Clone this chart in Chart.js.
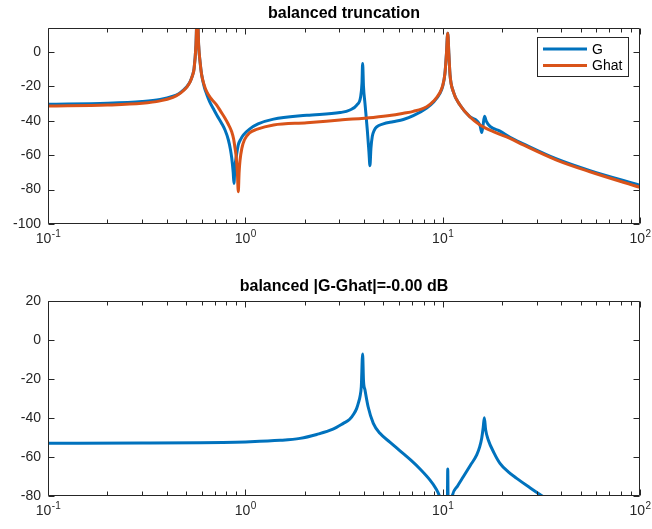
<!DOCTYPE html>
<html lang="en">
<head>
<meta charset="UTF-8">
<title>balanced truncation</title>
<style>
  body { margin: 0; background: #fff; }
  #wrap { position: relative; width: 652px; height: 529px; }
  canvas { position: absolute; left: 0; }
  #topChart { top: 0; }
  #errChart { top: 262px; }
</style>
<script src="https://cdn.jsdelivr.net/npm/chart.js"></script>
</head>
<body>
<div id="wrap">
  <canvas id="topChart" width="652" height="262"></canvas>
  <canvas id="errChart" width="652" height="267"></canvas>
</div>
<script>
// full model G: frequency (rad/s) and magnitude (dB)
const gFreq = [0.1, 0.2, 0.3, 0.37, 0.43, 0.46, 0.485, 0.505, 0.525, 0.54, 0.55, 0.562, 0.571, 0.58, 0.59,
  0.601, 0.62, 0.637, 0.66, 0.689, 0.72, 0.759, 0.79, 0.82, 0.84, 0.853, 0.868, 0.876, 0.885, 0.897, 0.921,
  0.95, 0.976, 1.05, 1.16, 1.39, 2.05, 3.02, 3.39, 3.67, 3.84, 3.9, 3.93, 3.97, 4.04, 4.15, 4.23, 4.28, 4.33,
  4.4, 4.5, 4.63, 5.0, 5.6, 6.32, 7.1, 8.3, 9.0, 9.69, 10.0, 10.27, 10.45, 10.61, 10.75, 10.9, 11.32, 12.24,
  13.72, 15.46, 15.77, 16.0, 16.3, 16.6, 17.38, 19.52, 21.94, 25.63, 37.8, 55.8, 100];
const gMag = [-30.4, -29.8, -28.8, -27.6, -25.7, -24.2, -22.2, -20.2, -17.2, -13.5, -9.5, 4, 26, 4, -6,
  -13.4, -20.5, -24.5, -29, -33, -37, -41.5, -45.5, -51, -56.5, -61.5, -70, -76.4, -67, -61.8, -54,
  -50.5, -48.3, -44.8, -41.8, -39, -36.8, -35.2, -33.7, -30.8, -26, -18, -6.6, -20, -30, -45.3, -58, -66.1, -56,
  -49, -45.5, -43.5, -41.8, -40.5, -39.2, -37, -32.5, -29, -24, -20, -12.4, -1, 11, -1, -13.4, -23, -30.8,
  -37.6, -42.6, -46.8, -43, -37.3, -40, -43.2, -46, -49.6, -53.4, -62.2, -69, -77.5];

// reduced model Ghat
const ghatFreq = [0.1, 0.2, 0.3, 0.37, 0.43, 0.46, 0.485, 0.505, 0.525, 0.54, 0.55, 0.562, 0.571, 0.58,
  0.59, 0.601, 0.62, 0.637, 0.67, 0.716, 0.75, 0.789, 0.82, 0.853, 0.872, 0.887, 0.9, 0.911, 0.921, 0.93,
  0.94, 0.96, 0.99, 1.05, 1.14, 1.39, 2.05, 3.02, 4.45, 5.5, 6.32, 7.1, 8.3, 9.0, 9.69, 10.0, 10.27, 10.45,
  10.61, 10.75, 10.9, 11.32, 12.24, 13.72, 15.46, 18.06, 21.94, 25.63, 37.8, 55.8, 100];
const ghatMag = [-31.4, -30.8, -29.8, -28.4, -26.3, -24.6, -22.5, -20.4, -17.4, -13.6, -9.7, 4, 26, 4,
  -6, -13.4, -19.5, -23, -27, -30.8, -34.5, -38.5, -42, -46.3, -50.5, -56, -61.5, -69.6, -81.2, -70,
  -63, -56, -51, -47, -45, -42.4, -41.1, -39.5, -38, -36.8, -35.6, -34.5, -31.8, -28.5, -23.5, -19.5, -12.4, -1,
  11, -1, -13.4, -23, -30.8, -37.6, -42.4, -46.3, -50.2, -54, -62.8, -69.6, -78.7];

// error |G - Ghat|
const errFreq = [0.1, 0.3, 0.589, 1.056, 1.5, 1.892, 2.3, 2.78, 3.137, 3.38, 3.55, 3.667, 3.75, 3.81, 3.87,
  3.93, 3.97, 4.04, 4.19, 4.452, 4.81, 5.4, 6.08, 6.9, 7.68, 8.63, 9.2, 9.62, 10.2, 10.55, 10.61, 10.67,
  10.9, 11.19, 11.9, 12.72, 13.8, 14.88, 15.4, 15.77, 16.05, 16.26, 16.5, 17.03, 18.2, 19.52, 21.5, 23.73,
  27.5, 31.8, 40];
const errMag = [-53.1, -53.0, -52.8, -52.3, -51.6, -50.6, -48.6, -45.9, -42.9, -40.8, -38, -35.2, -32, -29.2, -24,
  -7.3, -21, -25.8, -34.4, -42.9, -48, -52.5, -57, -61.8, -66.3, -72, -76, -80, -90, -90, -66.3, -90,
  -88, -80, -75, -70.3, -64.5, -59.1, -55, -50.5, -45, -40, -46, -51.4, -58, -63.4, -67.8, -71.1,
  -75.7, -80, -86];

const decades = [0.1, 1, 10, 100];

const FONT = '"Liberation Sans", Arial, Helvetica, sans-serif';
const INK = '#262626';
const BLUE = '#0072BD';
const ORANGE = '#D95319';

function pts(xs, ys) {
  return xs.map((x, i) => ({ x: x, y: ys[i] }));
}

// box, inward tick marks and 10^n labels
const frame = {
  id: 'frame',
  afterDatasetsDraw(chart) {
    const { ctx, chartArea: a } = chart;
    const xs = chart.scales.x, ys = chart.scales.y;
    const L = Math.round(a.left) + 0.5, R = Math.round(a.right) - 0.5;
    const T = Math.round(a.top) + 0.5, B = Math.round(a.bottom) - 0.5;
    ctx.save();
    ctx.strokeStyle = INK;
    ctx.lineWidth = 1;
    ctx.beginPath();
    ys.ticks.forEach(t => {
      const y = Math.round(ys.getPixelForValue(t.value)) + 0.5;
      ctx.moveTo(L, y); ctx.lineTo(L + 6, y);
      ctx.moveTo(R, y); ctx.lineTo(R - 6, y);
    });
    decades.forEach(d => {
      for (let m = 1; m <= 9; m++) {
        const v = d * m;
        if (v > xs.max * 1.0001) break;
        const x = Math.round(xs.getPixelForValue(v)) + 0.5;
        const len = m === 1 ? 6 : 4;
        ctx.moveTo(x, B); ctx.lineTo(x, B - len);
        ctx.moveTo(x, T); ctx.lineTo(x, T + len);
      }
    });
    ctx.moveTo(L, T); ctx.lineTo(R, T); ctx.lineTo(R, B); ctx.lineTo(L, B); ctx.closePath();
    ctx.stroke();

    ctx.fillStyle = INK;
    ctx.textBaseline = 'alphabetic';
    ctx.textAlign = 'left';
    decades.forEach(d => {
      const x = xs.getPixelForValue(d);
      const base = '10', exp = String(Math.round(Math.log10(d)));
      ctx.font = '14px ' + FONT;
      const wb = ctx.measureText(base).width;
      ctx.font = '10px ' + FONT;
      const we = ctx.measureText(exp).width;
      const x0 = x - (wb + we) / 2;
      ctx.font = '14px ' + FONT;
      ctx.fillText(base, x0, a.bottom + 19);
      ctx.font = '10px ' + FONT;
      ctx.fillText(exp, x0 + wb + 0.5, a.bottom + 13);
    });
    ctx.restore();
  }
};

const legendBox = {
  id: 'legendBox',
  afterDraw(chart) {
    const { ctx, chartArea: a } = chart;
    const x0 = a.right - 103, y0 = a.top + 9, w = 91, h = 39;
    ctx.save();
    ctx.fillStyle = '#fff';
    ctx.fillRect(x0, y0, w, h);
    ctx.strokeStyle = INK;
    ctx.lineWidth = 1;
    ctx.strokeRect(x0 + 0.5, y0 + 0.5, w, h);
    chart.data.datasets.forEach((ds, i) => {
      const y = y0 + 12 + i * 16.5;
      ctx.strokeStyle = ds.borderColor;
      ctx.lineWidth = 3;
      ctx.beginPath();
      ctx.moveTo(x0 + 6, y);
      ctx.lineTo(x0 + 50, y);
      ctx.stroke();
      ctx.fillStyle = '#000';
      ctx.font = '14px ' + FONT;
      ctx.textBaseline = 'middle';
      ctx.fillText(ds.label, x0 + 55, y + 1);
    });
    ctx.restore();
  }
};

function lineSet(label, data, color, order) {
  return {
    label: label,
    data: data,
    borderColor: color,
    backgroundColor: color,
    borderWidth: 3,
    pointRadius: 0,
    borderCapStyle: 'round',
    borderJoinStyle: 'round',
    cubicInterpolationMode: 'monotone',
    order: order
  };
}

function makeChart(id, datasets, opts, plugins) {
  return new Chart(document.getElementById(id), {
    type: 'line',
    data: { datasets: datasets },
    plugins: plugins,
    options: {
      responsive: false,
      animation: false,
      layout: { padding: { left: 0, right: 12, top: 0, bottom: 0 } },
      plugins: {
        legend: { display: false },
        tooltip: { enabled: false },
        title: {
          display: true,
          fullSize: false,
          text: opts.title,
          color: '#000',
          font: { family: FONT, size: 16, weight: 'bold' },
          padding: opts.titlePad
        }
      },
      scales: {
        x: {
          type: 'logarithmic',
          min: 0.1,
          max: 100,
          grid: { display: false, drawTicks: false },
          border: { display: false },
          ticks: { display: false },
          afterFit: s => { s.height = opts.xHeight; }
        },
        y: {
          min: opts.yMin,
          max: opts.yMax,
          grid: { display: false, drawTicks: false },
          border: { display: false },
          ticks: {
            stepSize: 20,
            includeBounds: false,
            padding: 7,
            color: INK,
            font: { family: FONT, size: 14 }
          },
          afterFit: s => { s.width = 48; }
        }
      }
    }
  });
}

makeChart('topChart', [
  lineSet('G', pts(gFreq, gMag), BLUE, 1),
  lineSet('Ghat', pts(ghatFreq, ghatMag), ORANGE, 0)
], {
  title: 'balanced truncation',
  titlePad: { top: 4, bottom: 4.8 },
  xHeight: 38,
  yMin: -100,
  yMax: 14
}, [frame, legendBox]);

makeChart('errChart', [
  lineSet('G-Ghat', pts(errFreq, errMag), BLUE, 0)
], {
  title: 'balanced |G-Ghat|=-0.00 dB',
  titlePad: { top: 15.4, bottom: 4.1 },
  xHeight: 33.3,
  yMin: -80,
  yMax: 20
}, [frame]);
</script>
</body>
</html>
